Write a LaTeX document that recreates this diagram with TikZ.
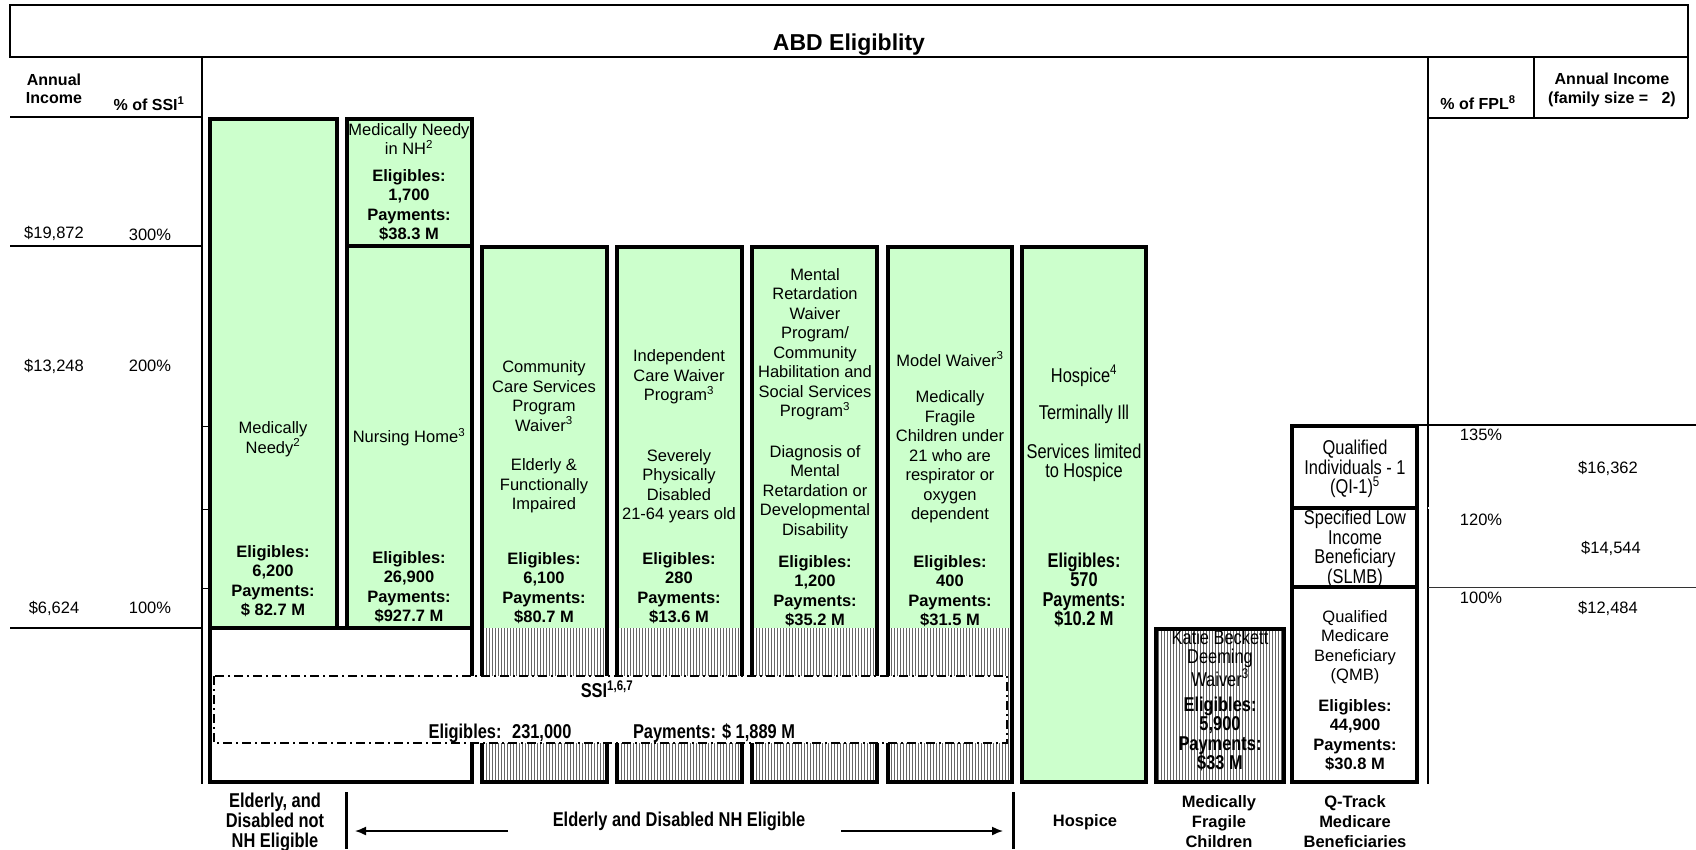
\documentclass[tikz,border=0pt]{standalone}
\usepackage{fontspec}
\setmainfont{Liberation Sans}
\newfontfamily\narrowfont[FakeStretch=0.82]{Liberation Sans}
\usepackage{tikz}
\usetikzlibrary{patterns.meta}
\usetikzlibrary{arrows.meta}
\definecolor{mgreen}{RGB}{204,255,204}

\tikzset{
  rule/.style={line width=1.5pt},
  box/.style={draw, line width=4pt},
  prog/.style={box, fill=mgreen},
  bare/.style={box, fill=white},
  hatch/.style={pattern={Lines[angle=90,distance=3pt,line width=1pt]}, pattern color=black!60},
  ssibox/.style={fill=white, line width=2pt, dash pattern=on 9pt off 4pt on 2pt off 4pt},
  txt/.style={align=center, inner sep=0pt, font=\fontsize{16.5}{19.5}\selectfont},
  elig/.style={align=center, inner sep=0pt, font=\bfseries\fontsize{16.5}{19.5}\selectfont},
  ntxt/.style={align=center, inner sep=0pt, font=\narrowfont\fontsize{20}{19.5}\selectfont},
  nelig/.style={align=center, inner sep=0pt, font=\narrowfont\bfseries\fontsize{20}{19.5}\selectfont},
  hdr/.style={align=center, inner sep=0pt, font=\bfseries\fontsize{16}{18.5}\selectfont},
  arr/.style={-{Latex[length=11pt,width=9pt]}, line width=1.5pt}
}

\begin{document}
\begin{tikzpicture}[x=1pt,y=-1pt]
\useasboundingbox (0,0) rectangle (1696,849);

% title row
\draw[rule] (10,5) rectangle (1688,57);
\node[font=\bfseries\fontsize{23}{26}\selectfont] (title) at (849,45) {ABD Eligiblity};

% income scales
\draw[rule] (202,57) -- (202,784);
\draw[rule] (10,117) -- (202,117);
\draw[rule] (10,246) -- (202,246);
\draw[rule] (10,628) -- (202,628);
\draw[rule] (1428,57) -- (1428,784);
\draw[rule] (1534,57) -- (1534,118);
\draw[rule] (1688,57) -- (1688,118);
\draw[rule] (1428,118) -- (1688,118);
\draw[rule] (1419,425) -- (1696,425);
\draw[gray, double, double distance=1.5pt] (1428,508) -- (1696,508);
\draw[black!80, line width=1pt] (1428,587) -- (1696,587);
\foreach \y in {426,509,588}
  \draw[line width=1pt] (202,\y) -- (209,\y);

\node[hdr] (annual) at (54,89) {Annual\\Income};
\node[hdr] (pctssi) at (149,104) {\% of SSI\textsuperscript{1}};
\node[txt] (inc300) at (54,233) {\$19,872};
\node[txt] (pct300) at (150,235) {300\%};
\node[txt] (inc200) at (54,366) {\$13,248};
\node[txt] (pct200) at (150,366) {200\%};
\node[txt] (inc100) at (54,608) {\$6,624};
\node[txt] (pct100) at (150,608) {100\%};

\node[hdr] (pctfpl) at (1478,103) {\% of FPL\textsuperscript{8}};
\node[hdr] (annfam) at (1612,90) {Annual Income\\(family size = \ \ 2)};
\node[txt] (fpl135) at (1481,435) {135\%};
\node[txt] (inc135) at (1608,468) {\$16,362};
\node[txt] (fpl120) at (1481,520) {120\%};
\node[txt] (inc120) at (1611,548) {\$14,544};
\node[txt] (fpl100) at (1481,598) {100\%};
\node[txt] (inc100r) at (1608,608) {\$12,484};

% program columns
\draw[prog] (210,119) rectangle (337,628);
\draw[prog] (347,119) rectangle (472,246);
\draw[prog] (347,246) rectangle (472,628);
\draw[bare] (210,628) rectangle (472,782);
\foreach \xa/\xb in {482/607, 617/742, 752/877, 888/1012} {
  \fill[mgreen] (\xa,247) rectangle (\xb,628);
  \fill[hatch] (\xa,628) rectangle (\xb,782);
  \draw[box] (\xa,247) rectangle (\xb,782);
}
\draw[prog] (1022,247) rectangle (1146,782);
\draw[box, hatch] (1156,629) rectangle (1284,782);
\draw[bare] (1292,426) rectangle (1417,508);
\draw[bare] (1292,508) rectangle (1417,587);
\draw[bare] (1292,587) rectangle (1417,782);

% SSI
\draw[ssibox] (214,676) rectangle (1007,743);
\node[nelig] (ssi) at (607,689) {SSI\textsuperscript{1,6,7}};
\node[nelig] (ssielig) at (500,733) {Eligibles: \ 231,000};
\node[nelig] (ssipay) at (714,733) {Payments: \$ 1,889 M};

% column texts
\node[txt] (mn) at (273,439) {Medically\\Needy\textsuperscript{2}};
\node[elig] (mnelig) at (273,581) {Eligibles:\\6,200\\Payments:\\\$ 82.7 M};

\node[txt] (mnnh) at (409,139) {Medically Needy\\in NH\textsuperscript{2}};
\node[elig] (mnnhelig) at (409,205) {Eligibles:\\1,700\\Payments:\\\$38.3 M};
\node[txt] (nh) at (409,437) {Nursing Home\textsuperscript{3}};
\node[elig] (nhelig) at (409,587) {Eligibles:\\26,900\\Payments:\\\$927.7 M};

\node[txt] (ccsp) at (544,396) {Community\\Care Services\\Program\\Waiver\textsuperscript{3}};
\node[txt] (ccspwho) at (544,486) {Elderly \&\\Functionally\\Impaired};
\node[elig] (ccspelig) at (544,588) {Eligibles:\\6,100\\Payments:\\\$80.7 M};

\node[txt] (icwp) at (679,377) {Independent\\Care Waiver\\Program\textsuperscript{3}};
\node[txt] (icwpwho) at (679,486) {Severely\\Physically\\Disabled\\21-64 years old};
\node[elig] (icwpelig) at (679,588) {Eligibles:\\280\\Payments:\\\$13.6 M};

\node[txt] (mrwp) at (815,344) {Mental\\Retardation\\Waiver\\Program/\\Community\\Habilitation and\\Social Services\\Program\textsuperscript{3}};
\node[txt] (mrwpwho) at (815,492) {Diagnosis of\\Mental\\Retardation or\\Developmental\\Disability};
\node[elig] (mrwpelig) at (815,591) {Eligibles:\\1,200\\Payments:\\\$35.2 M};

\node[txt] (mw) at (950,359) {Model Waiver\textsuperscript{3}};
\node[txt] (mwwho) at (950,457) {Medically\\Fragile\\Children under\\21 who are\\respirator or\\oxygen\\dependent};
\node[elig] (mwelig) at (950,591) {Eligibles:\\400\\Payments:\\\$31.5 M};

\node[ntxt] (hosp) at (1084,376) {Hospice\textsuperscript{4}};
\node[ntxt] (hospwho) at (1084,414) {Terminally Ill};
\node[ntxt] (hosplim) at (1084,463) {Services limited\\to Hospice};
\node[nelig] (hospelig) at (1084,590) {Eligibles:\\570\\Payments:\\\$10.2 M};

\node[ntxt] (kb) at (1220,658) {Katie Beckett\\Deeming\\Waiver\textsuperscript{3}};
\node[nelig] (kbelig) at (1220,734) {Eligibles:\\5,900\\Payments:\\\$33 M};

\node[ntxt] (qi) at (1355,469) {Qualified\\Individuals - 1\\(QI-1)\textsuperscript{5}};
\node[ntxt] (slmb) at (1355,549) {Specified Low\\Income\\Beneficiary\\(SLMB)};
\node[txt] (qmb) at (1355,647) {Qualified\\Medicare\\Beneficiary\\(QMB)};
\node[elig] (qmbelig) at (1355,735) {Eligibles:\\44,900\\Payments:\\\$30.8 M};

% groups
\draw[line width=3pt] (346,792) -- (346,849);
\draw[line width=3pt] (1013,792) -- (1013,849);
\node[nelig, font=\narrowfont\bfseries\fontsize{20}{20}\selectfont] (notnh) at (275,822) {Elderly, and\\Disabled not\\NH Eligible};
\node[nelig] (nhgrp) at (679,821) {Elderly and Disabled NH Eligible};
\coordinate (nhtailL) at (508,831);
\coordinate (nhtipL) at (355,831);
\coordinate (nhtailR) at (841,831);
\coordinate (nhtipR) at (1003,831);
\draw[arr] (nhtailL) -- (nhtipL);
\draw[arr] (nhtailR) -- (nhtipR);
\node[elig] (hospgrp) at (1085,822) {Hospice};
\node[elig, font=\bfseries\fontsize{16.5}{20}\selectfont] (mfcgrp) at (1219,822) {Medically\\Fragile\\Children};
\node[elig, font=\bfseries\fontsize{16.5}{20}\selectfont] (qtgrp) at (1355,822) {Q-Track\\Medicare\\Beneficiaries};
\end{tikzpicture}
\end{document}
